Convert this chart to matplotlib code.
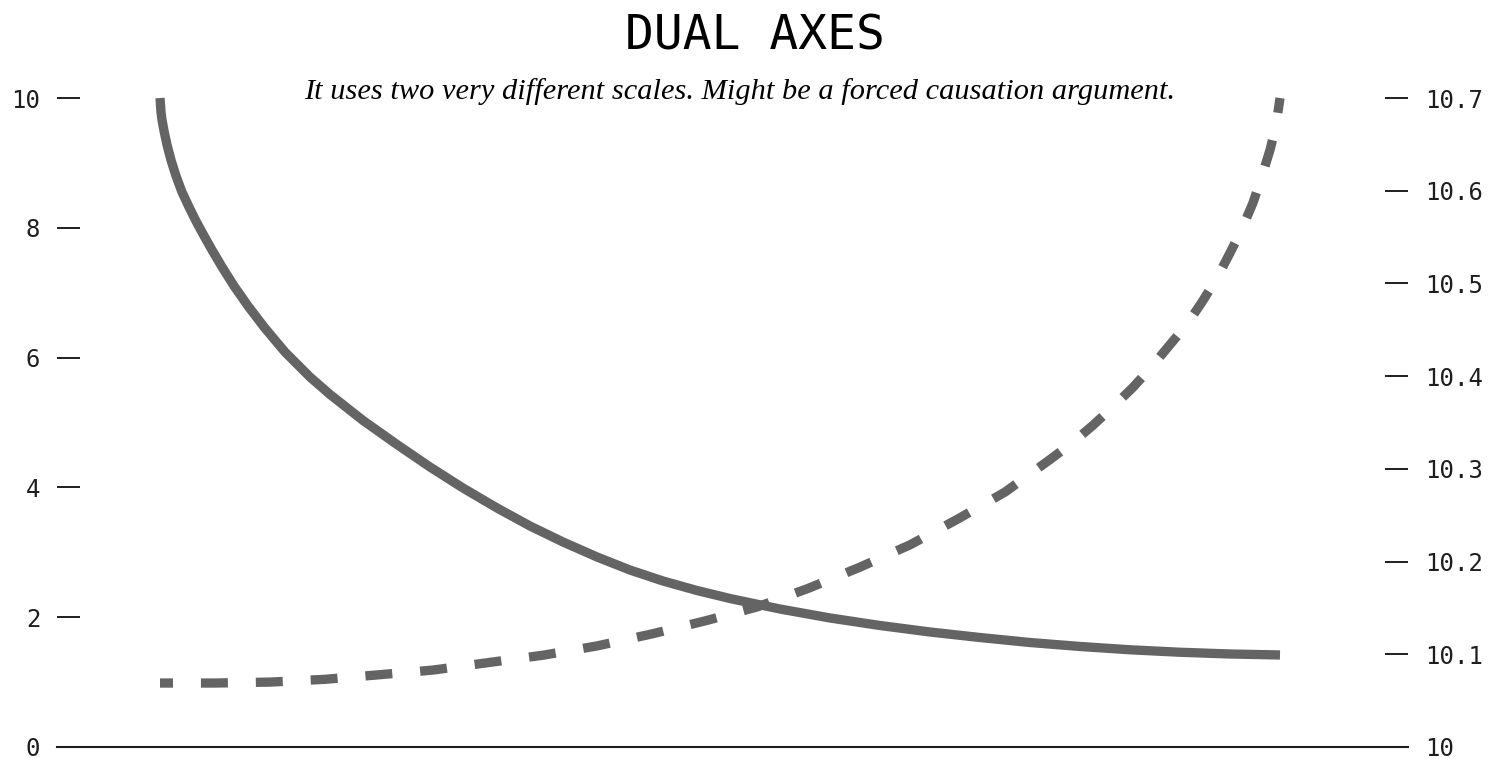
import matplotlib
matplotlib.use("Agg")
import matplotlib.pyplot as plt
import numpy as np

plt.rcParams['font.family'] = ['DejaVu Sans Mono']

# ---- data (x in arbitrary units 0..100) ----
solid_x = [0.00, 0.09, 0.18, 0.36, 0.63, 0.98, 1.43, 1.96, 2.59, 3.21, 3.84, 4.64,
           5.54, 6.61, 7.86, 9.29, 11.16, 13.39, 15.18, 18.13, 21.16, 24.11, 27.05,
           30.09, 33.04, 35.98, 39.02, 41.96, 44.91, 47.95, 50.89, 55.36, 59.82,
           64.29, 68.75, 73.21, 77.68, 82.14, 86.61, 91.07, 95.54, 100.00]
solid_y = [10.000, 9.784, 9.661, 9.492, 9.276, 9.045, 8.798, 8.552, 8.320, 8.105, 7.904, 7.658,
           7.396, 7.103, 6.795, 6.471, 6.086, 5.701, 5.432, 5.031, 4.661, 4.314, 3.991,
           3.683, 3.405, 3.159, 2.928, 2.727, 2.558, 2.411, 2.288, 2.126, 1.988,
           1.872, 1.772, 1.687, 1.610, 1.549, 1.498, 1.460, 1.433, 1.418]

dashed_x = [0.0, 4.91, 9.82, 14.73, 19.64, 24.38, 29.29, 34.20, 39.02, 43.93,
            48.66, 53.30, 57.86, 62.50, 66.96, 71.25, 75.45, 79.46, 81.34, 83.30,
            85.09, 86.88, 88.39, 90.18, 91.70, 93.04, 94.38, 95.54, 96.61, 97.59,
            98.39, 99.11, 99.64, 100.0]
dashed_y = [10.069, 10.069, 10.070, 10.073, 10.078, 10.083, 10.091, 10.099, 10.109, 10.122,
            10.136, 10.151, 10.171, 10.194, 10.218, 10.246, 10.275, 10.310, 10.327, 10.347,
            10.367, 10.388, 10.408, 10.434, 10.456, 10.480, 10.506, 10.533, 10.559, 10.587,
            10.616, 10.644, 10.670, 10.700]

left_ticks = [0, 2, 4, 6, 8, 10]
left_labels = ["0", "2", "4", "6", "8", "10"]
right_ticks = [10.0, 10.1, 10.2, 10.3, 10.4, 10.5, 10.6, 10.7]
right_labels = ["10", "10.1", "10.2", "10.3", "10.4", "10.5", "10.6", "10.7"]

title = "DUAL AXES"
subtitle = "It uses two very different scales. Might be a forced causation argument."

W, H = 1488, 758
DPI = 100
fig = plt.figure(figsize=(W / DPI, H / DPI), dpi=DPI)
ax = fig.add_axes([57 / W, 11 / H, (1408 - 57) / W, (747 - 98) / H])
ax2 = ax.twinx()

line_color = '#646464'
ink = '#1e1e1e'
LW = 6.7

ax.set_xlim(-103 / 11.2, 100 + 128 / 11.2)
ax.set_ylim(0, 10)
ax2.set_ylim(10, 10.7)

# dash pattern (in pixels), adjusted so the line ends on a dash
lw_px = LW * DPI / 72
on_px, off_px, start_px, end_px = 27.0, 28.0, 14.0, 15.0
pts = ax2.transData.transform(np.column_stack([dashed_x, dashed_y]))
L = np.sum(np.hypot(np.diff(pts[:, 0]), np.diff(pts[:, 1])))
P = on_px + off_px
n = max(1, round((start_px + L - end_px) / P))
scale = (start_px + L - end_px) / (n * P)
dash_style = (start_px * scale / lw_px, (on_px * scale / lw_px, off_px * scale / lw_px))

ax.plot(solid_x, solid_y, color=line_color, lw=LW, solid_capstyle='butt',
        solid_joinstyle='round', clip_on=False, zorder=3)
ax2.plot(dashed_x, dashed_y, color=line_color, lw=LW, dash_capstyle='butt',
         dash_joinstyle='round', linestyle=dash_style, clip_on=False, zorder=3)

for a in (ax, ax2):
    for s in a.spines.values():
        s.set_visible(False)
    a.set_xticks([])
ax.spines['bottom'].set_visible(True)
ax.spines['bottom'].set_color(ink)
ax.spines['bottom'].set_linewidth(1.5)

ax.set_yticks(left_ticks)
ax.set_yticklabels(left_labels)
ax2.set_yticks(right_ticks)
ax2.set_yticklabels(right_labels)

for a in (ax, ax2):
    a.tick_params(axis='y', direction='in', length=16.5, width=1.4, pad=12,
                  labelsize=17.3, colors=ink)

fig.text(755 / W, 1 - 50 / H, title, ha='center', va='baseline',
         fontsize=34.5, family='DejaVu Sans Mono', color='black')
fig.text(740 / W, 1 - 99 / H, subtitle, ha='center', va='baseline',
         fontsize=21.9, family=['Liberation Serif', 'DejaVu Serif'], style='italic',
         color='black')

fig.savefig('out.png', dpi=DPI, facecolor='white')
